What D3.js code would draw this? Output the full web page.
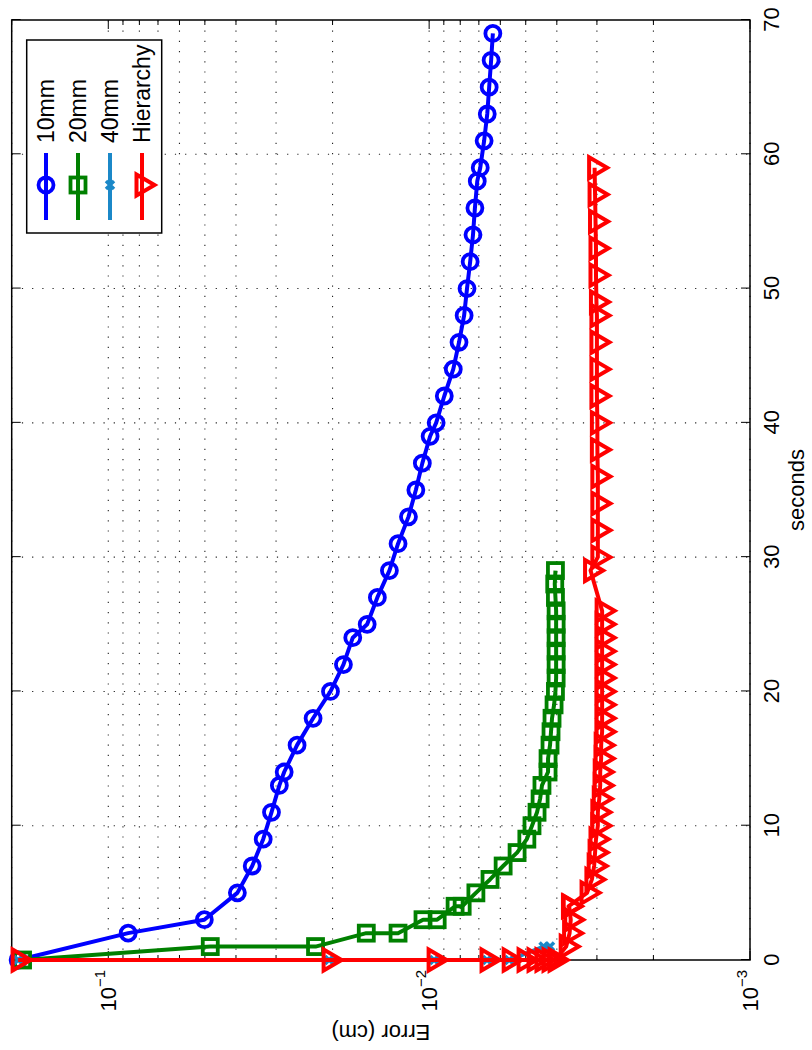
<!DOCTYPE html>
<html>
<head>
<meta charset="utf-8">
<script src="https://cdn.jsdelivr.net/npm/d3@7"></script>
<style>
  body { margin: 0; background: #fff; }
  svg text { font-family: "Liberation Sans", Arial, Helvetica, sans-serif; }
</style>
</head>
<body>
<svg id="chart" width="812" height="1050"></svg>
<script>
// values (seconds, error in cm)
var t10 = [0,2,3,5,7,9,11,13,14,16,18,20,22,24,25,27,29,31,33,35,37,39,40,42,44,46,48,50,52,54,56,58,59,61,63,65,67,69];
var e10 = [0.191,0.0867,0.0502,0.0396,0.0356,0.0329,0.0310,0.0293,0.0283,0.0258,
           0.0230,0.0203,0.0185,0.0173,0.0156,0.0145,0.0133,0.0125,0.0116,0.0110,
           0.0105,0.00993,0.00951,0.00897,0.00841,0.00807,0.00778,0.00762,0.00745,0.00730,
           0.00720,0.00708,0.00693,0.00674,0.00659,0.00650,0.00641,0.00633];

var t20 = [0,1,1,2,2,3,3,4,4,5,6,7,8,9,10,11,12,13,14,15,16,17,18,19,20,21,22,23,24,25,26,27,28,29];
var e20 = [0.185,0.0481,0.0226,0.0157,0.0125,0.01045,0.00944,0.00830,0.00789,0.00715,
           0.00646,0.00588,0.00532,0.00496,0.00478,0.00461,0.00451,0.00445,0.00426,0.00426,
           0.00420,0.00417,0.00414,0.00408,0.00404,0.00402,0.00402,0.00402,0.00402,0.00402,
           0.00402,0.00404,0.00406,0.00404];

var t40 = [0,0,0,0,0,1,1];
var e40 = [0.191,0.0205,0.00965,0.00660,0.00563,0.0044,0.0042];

var tH = [0,0,0,0,0,0,0,0,0,0,
          1,2,3,4,4,5,6,
          7,8,9,10,11,12,13,14,15,16,17,18,19,20,21,22,23,24,25,26,
          29,30,32,34,36,38,40,42,44,46,48,49,51,53,55,57,59];
var eH = [0.191,0.0205,0.00965,0.00660,0.00563,0.00506,0.00471,0.00445,0.00423,0.00405,
          0.00374,0.00365,0.00362,0.00366,0.00368,0.00322,0.00311,
          0.00306,0.00304,0.00302,0.00298,0.00298,0.00295,0.00293,0.00293,0.00291,0.00291,
          0.00289,0.00289,0.00289,0.00289,0.00289,0.00289,0.00289,0.00289,0.00289,0.00289,
          0.00314,0.00298,0.00298,0.00298,0.00298,0.00299,0.00299,0.00300,0.00300,0.00300,
          0.00300,0.00301,0.00302,0.00302,0.00303,0.00304,0.00305];

var seriesNames = ["10mm","20mm","40mm","Hierarchy"];
var seriesColors = ["#0000ff","#008000","#1b88c8","#ff0000"];
var secTicks = [0,10,20,30,40,50,60,70];
var errMajor = [0.001,0.01,0.1];
var errExp = ["\u22123","\u22122","\u22121"];

window.onload = function() {
  makeChart();
};

function makeChart() {
  // the whole figure is turned a quarter turn, so draw it upright in a rotated group
  var W = 940, H = 738.3;
  var x = d3.scaleLinear().domain([0, 70]).range([0, W]);
  var y = d3.scaleLog().domain([0.001, 0.2]).range([H, 0]);

  var svg = d3.select("#chart");
  var g = svg.append("g").attr("transform", "translate(11.7,960) rotate(-90)");

  // dotted grid
  var grid = g.append("g").attr("stroke", "#222").attr("stroke-width", 1.1)
      .attr("stroke-dasharray", "1.2,9").attr("fill", "none");
  grid.selectAll("line.gx").data(secTicks.slice(1, -1))
    .enter().append("line")
      .attr("x1", x).attr("x2", x).attr("y1", 0).attr("y2", H);
  grid.selectAll("line.gy").data(y.ticks())
    .enter().append("line")
      .attr("x1", 0).attr("x2", W).attr("y1", y).attr("y2", y);

  // seconds axis (bottom of the upright chart) + mirrored ticks on top
  var xAxis = g.append("g").attr("transform", "translate(0," + H + ")")
      .call(d3.axisBottom(x).tickValues(secTicks).tickSize(-9).tickPadding(13));
  xAxis.select(".domain").remove();
  xAxis.selectAll("text").attr("font-size", 22).attr("fill", "#000")
      .style("font-family", "'Liberation Sans', Arial, sans-serif");
  xAxis.selectAll("line").attr("stroke", "#000");

  var xTop = g.append("g")
      .call(d3.axisTop(x).tickValues(secTicks).tickSize(-9).tickFormat(""));
  xTop.select(".domain").remove();

  // log axis ticks, both sides
  var minor = y.ticks().filter(function(d) { return errMajor.indexOf(d) < 0; });
  var ticks = g.append("g").attr("stroke", "#000").attr("stroke-width", 1);
  ticks.selectAll("line.mj").data(errMajor).enter().append("line")
      .attr("x1", 0).attr("x2", 9).attr("y1", y).attr("y2", y);
  ticks.selectAll("line.mj2").data(errMajor).enter().append("line")
      .attr("x1", W).attr("x2", W - 9).attr("y1", y).attr("y2", y);
  ticks.selectAll("line.mn").data(minor).enter().append("line")
      .attr("x1", 0).attr("x2", 5).attr("y1", y).attr("y2", y);
  ticks.selectAll("line.mn2").data(minor).enter().append("line")
      .attr("x1", W).attr("x2", W - 5).attr("y1", y).attr("y2", y);

  var yLab = g.selectAll("text.ylab").data(errMajor).enter().append("text")
      .attr("class", "ylab")
      .attr("x", -10).attr("y", function(d) { return y(d); })
      .attr("dy", "0.36em")
      .attr("text-anchor", "end")
      .attr("font-size", 22);
  yLab.append("tspan").text("10");
  yLab.append("tspan").attr("font-size", 15).attr("dy", "-0.75em")
      .text(function(d, i) { return errExp[i]; });

  // box
  g.append("rect").attr("width", W).attr("height", H)
      .attr("fill", "none").attr("stroke", "#000").attr("stroke-width", 1.5);

  // axis titles
  g.append("text").attr("x", W / 2).attr("y", H + 54)
      .attr("text-anchor", "middle").attr("font-size", 22).text("seconds");
  g.append("text").attr("transform", "translate(-65," + (H / 2) + ") rotate(-90)")
      .attr("text-anchor", "middle").attr("font-size", 22).text("Error (cm)");

  // series
  var all = [[t10, e10, "o"], [t20, e20, "s"], [t40, e40, "x"], [tH, eH, "v"]];
  var line = d3.line();
  all.forEach(function(s, k) {
    var pts = s[0].map(function(t, i) { return [x(t), y(s[1][i])]; });
    g.append("path").attr("d", line(pts))
      .attr("fill", "none").attr("stroke", seriesColors[k])
      .attr("stroke-width", 4).attr("stroke-linejoin", "round");
    var m = g.append("g");
    m.selectAll("g").data(pts).enter().append("g")
      .each(function(p) { drawMarker(d3.select(this), p[0], p[1], s[2], seriesColors[k]); });
  });

  // legend
  var lg = g.append("g");
  lg.append("rect").attr("x", 727).attr("y", 15).attr("width", 193).attr("height", 135)
      .attr("fill", "#fff").attr("stroke", "#000").attr("stroke-width", 1.5);
  var marks = ["o", "s", "x", "v"];
  var rowV = [34.3, 66.3, 98.3, 130.3];
  seriesNames.forEach(function(name, k) {
    lg.append("line").attr("x1", 740).attr("x2", 807).attr("y1", rowV[k]).attr("y2", rowV[k])
      .attr("stroke", seriesColors[k]).attr("stroke-width", 4);
    drawMarker(lg.append("g"), 775, rowV[k], marks[k], seriesColors[k]);
    lg.append("text").attr("x", 817).attr("y", rowV[k] + 8.5)
      .attr("font-size", 23).text(name);
  });
}

function drawMarker(sel, u, v, type, color) {
  if (type == "o") {
    sel.append("circle").attr("cx", u).attr("cy", v).attr("r", 7.5)
      .attr("fill", "none").attr("stroke", color).attr("stroke-width", 3.8);
  } else if (type == "s") {
    sel.append("rect").attr("x", u - 7.5).attr("y", v - 7.5).attr("width", 15).attr("height", 15)
      .attr("fill", "none").attr("stroke", color).attr("stroke-width", 3.8);
  } else if (type == "x") {
    sel.append("path").attr("d", "M" + (u - 4) + "," + (v - 4) + "L" + (u + 4) + "," + (v + 4) +
        "M" + (u - 4) + "," + (v + 4) + "L" + (u + 4) + "," + (v - 4))
      .attr("stroke", color).attr("stroke-width", 3.5);
  } else {
    sel.append("path").attr("d", "M" + (u - 10.5) + "," + (v - 5.5) + "L" + (u + 10.5) + "," + (v - 5.5) +
        "L" + u + "," + (v + 12.5) + "Z")
      .attr("fill", "none").attr("stroke", color).attr("stroke-width", 4)
      .attr("stroke-linejoin", "miter");
  }
}
</script>
</body>
</html>
